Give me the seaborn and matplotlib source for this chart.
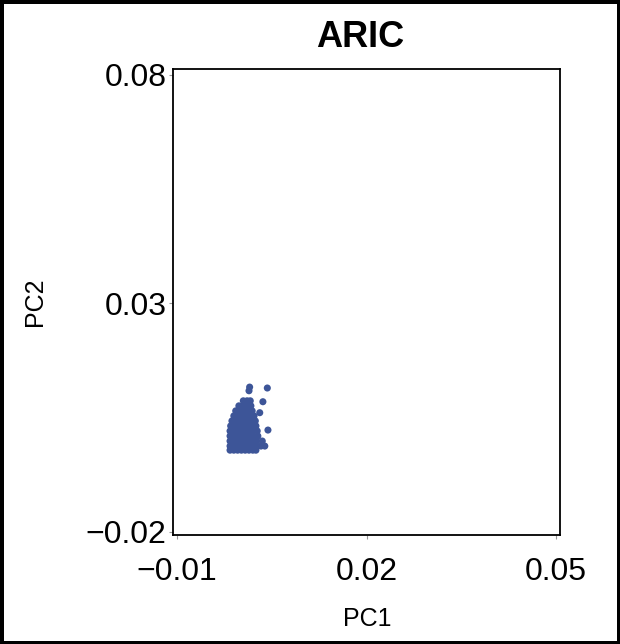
import matplotlib
matplotlib.use("Agg")
import matplotlib.pyplot as plt
import seaborn as sns
import pandas as pd

title = "ARIC"
x_label = "PC1"
y_label = "PC2"
x_ticks = [-0.01, 0.02, 0.05]
x_tick_labels = ["\u22120.01", "0.02", "0.05"]
y_ticks = [-0.02, 0.03, 0.08]
y_tick_labels = ["\u22120.02", "0.03", "0.08"]

pc1 = [
    0.0005, 0.0011, 0.0016,
    -0.0002, 0.0004, 0.0010, 0.0017,
    -0.0007, -0.0001, 0.0005, 0.0011, 0.0019,
    -0.0010, -0.0004, 0.0002, 0.0008, 0.0014, 0.0022,
    -0.0013, -0.0007, -0.0001, 0.0005, 0.0011, 0.0017, 0.0024,
    -0.0015, -0.0009, -0.0003, 0.0003, 0.0009, 0.0015, 0.0021, 0.0025,
    -0.0016, -0.0010, -0.0004, 0.0002, 0.0008, 0.0014, 0.0020, 0.0027,
    -0.0016, -0.0010, -0.0004, 0.0002, 0.0008, 0.0014, 0.0020, 0.0028,
    -0.0016, -0.0010, -0.0004, 0.0002, 0.0008, 0.0014, 0.0020, 0.0026, 0.0035,
    -0.0016, -0.0010, -0.0004, 0.0002, 0.0008, 0.0014, 0.0020, 0.0026, 0.0033, 0.0039,
    -0.0016, -0.0010, -0.0004, 0.0002, 0.0008, 0.0014, 0.0020, 0.0025,
    0.0015, 0.0014, 0.0043, 0.0036, 0.0031, 0.0044,
]
pc2 = [
    0.0087, 0.0087, 0.0087,
    0.0076, 0.0076, 0.0076, 0.0076,
    0.0065, 0.0065, 0.0065, 0.0065, 0.0065,
    0.0054, 0.0054, 0.0054, 0.0054, 0.0054, 0.0054,
    0.0043, 0.0043, 0.0043, 0.0043, 0.0043, 0.0043, 0.0043,
    0.0032, 0.0032, 0.0032, 0.0032, 0.0032, 0.0032, 0.0032, 0.0032,
    0.0021, 0.0021, 0.0021, 0.0021, 0.0021, 0.0021, 0.0021, 0.0021,
    0.0010, 0.0010, 0.0010, 0.0010, 0.0010, 0.0010, 0.0010, 0.0010,
    -0.0001, -0.0001, -0.0001, -0.0001, -0.0001, -0.0001, -0.0001, -0.0001, -0.0001,
    -0.0012, -0.0012, -0.0012, -0.0012, -0.0012, -0.0012, -0.0012, -0.0012, -0.0012, -0.0012,
    -0.0021, -0.0021, -0.0021, -0.0021, -0.0021, -0.0021, -0.0021, -0.0021,
    0.0117, 0.0109, 0.0115, 0.0085, 0.0061, 0.0023,
]

df = pd.DataFrame({"PC1": pc1, "PC2": pc2})

sns.set_style("white")
plt.rcParams["font.family"] = ["Liberation Sans", "DejaVu Sans"]

fig = plt.figure(figsize=(6.2, 6.44), dpi=100, facecolor="white",
                 edgecolor="black", linewidth=5)
ax = fig.add_axes([173 / 620, 109 / 644, 387 / 620, 466 / 644])

sns.scatterplot(data=df, x="PC1", y="PC2", ax=ax, color="#3D5598",
                s=26, linewidth=0, edgecolor="none", legend=False)

ax.set_xlim(-0.01063, 0.05063)
ax.set_ylim(-0.02066, 0.0813)
ax.set_xticks(x_ticks)
ax.set_xticklabels(x_tick_labels)
ax.set_yticks(y_ticks)
ax.set_yticklabels(y_tick_labels)
ax.tick_params(axis="x", bottom=True, direction="out", length=3, width=0.8,
               labelsize=23, color="#999999", labelcolor="black", pad=12.5)
ax.tick_params(axis="y", left=True, direction="out", length=3, width=0.8,
               labelsize=23, color="#999999", labelcolor="black", pad=1.5)
for sp in ax.spines.values():
    sp.set_visible(True)
    sp.set_color("black")
    sp.set_linewidth(1.3)

ax.set_xlabel(x_label, fontsize=18, color="black")
ax.set_ylabel(y_label, fontsize=18, color="black")
ax.xaxis.set_label_coords(0.501, -0.1545)
ax.yaxis.set_label_coords(-0.326, 0.5)
fig.text(360 / 620, 1 - 47 / 644, title, ha="center", va="baseline",
         fontsize=26, fontweight="bold", color="black")

fig.savefig("out.png", dpi=100, facecolor="white", edgecolor="black")
